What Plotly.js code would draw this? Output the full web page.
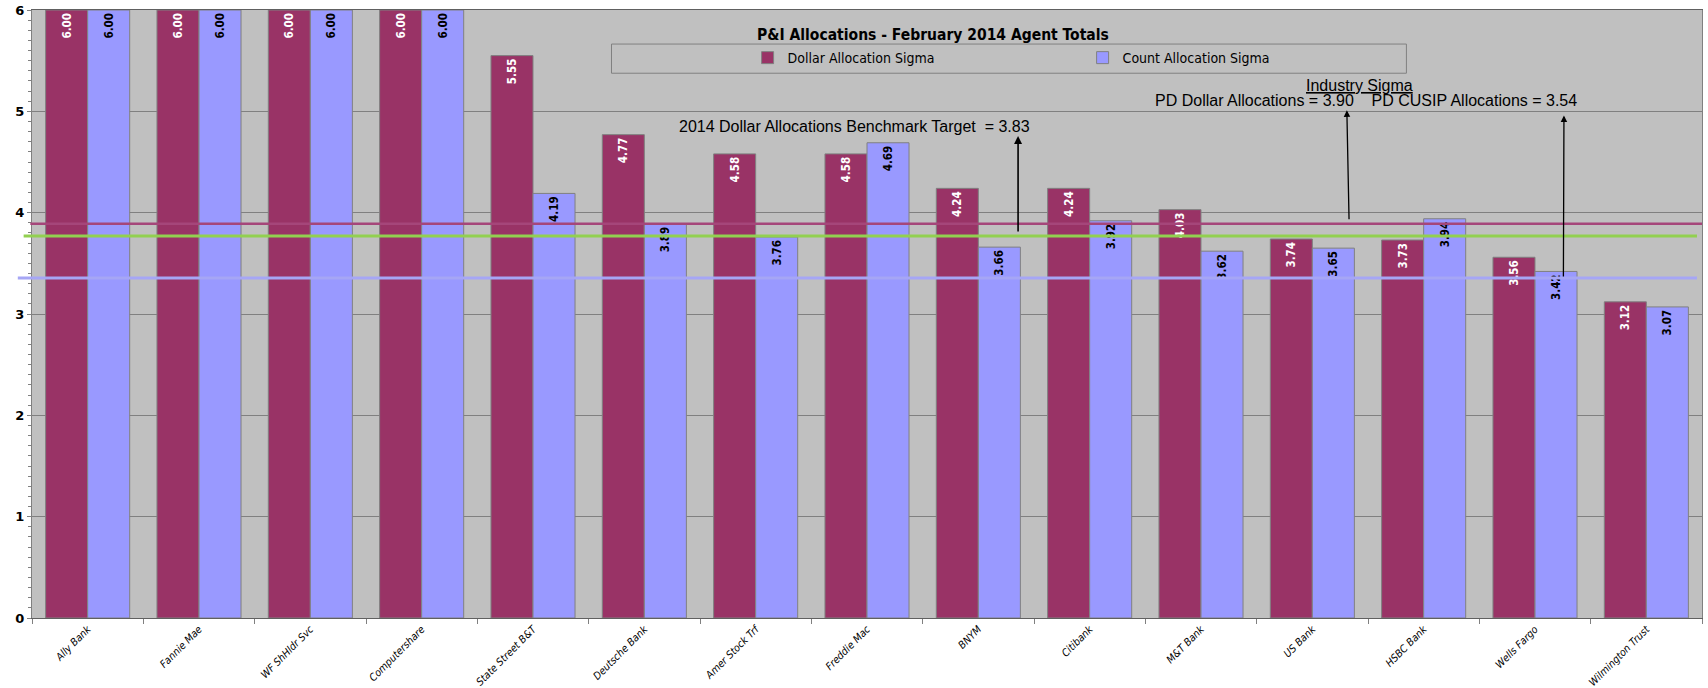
<!DOCTYPE html>
<html>
<head>
<meta charset="utf-8">
<script src="https://cdn.plot.ly/plotly-3.0.1.min.js"></script>
<style>html,body{margin:0;padding:0;background:#fff;}#chart{width:1708px;height:688px;}</style>
</head>
<body>
<div id="chart"></div>
<script>
// ---- data ----
const categories = ['Ally Bank','Fannie Mae','WF ShHldr Svc','Computershare','State Street B&T','Deutsche Bank','Amer Stock Trf','Freddie Mac','BNYM','Citibank','M&T Bank','US Bank','HSBC Bank','Wells Fargo','Wilmington Trust'];
const dollarSigma = [6.00,6.00,6.00,6.00,5.55,4.77,4.58,4.58,4.24,4.24,4.03,3.74,3.73,3.56,3.12];
const countSigma  = [6.00,6.00,6.00,6.00,4.19,3.89,3.76,4.69,3.66,3.92,3.62,3.65,3.94,3.42,3.07];
const seriesNames = ['Dollar Allocation Sigma','Count Allocation Sigma'];
// reference lines as drawn in the chart
const dollarLineLevel = 3.89;
const benchmarkLineLevel = 3.77;
const cusipLineLevel = 3.355;
const yTicks = [0,1,2,3,4,5,6];

const narrow = 'Liberation Sans Narrow, DejaVu Sans Condensed, Arial Narrow, sans-serif';
const arial = 'Liberation Sans, Arial, sans-serif';

const traces = [
  {type:'bar', name:seriesNames[0], x:categories, y:dollarSigma,
   marker:{color:'#993366', line:{color:'#808080', width:1}},
   texttemplate:'%{y:.2f}', textposition:'inside', insidetextanchor:'end', textangle:-90,
   constraintext:'none',
   textfont:{family:'DejaVu Sans Condensed, DejaVu Sans', size:11.5, color:'#ffffff', weight:'bold'},
   hoverinfo:'skip'},
  {type:'bar', name:seriesNames[1], x:categories, y:countSigma,
   marker:{color:'#9999FF', line:{color:'#808080', width:1}},
   texttemplate:'%{y:.2f}', textposition:'inside', insidetextanchor:'end', textangle:-90,
   constraintext:'none',
   textfont:{family:'DejaVu Sans Condensed, DejaVu Sans', size:11.5, color:'#000000', weight:'bold'},
   hoverinfo:'skip'}
];

const layout = {
  width:1708, height:688,
  margin:{l:32, r:6, t:10, b:70},
  paper_bgcolor:'#ffffff', plot_bgcolor:'#C0C0C0',
  barmode:'group', bargap:0.245, bargroupgap:0,
  showlegend:true,
  legend:{orientation:'h', x:0.4285, y:0.921, xanchor:'left', yanchor:'middle',
          bgcolor:'rgba(0,0,0,0)', borderwidth:0, entrywidth:290,
          font:{family:narrow, size:14, color:'#000'}},
  title:{text:'<b>P&amp;I Allocations - February 2014 Agent Totals</b>',
         x:0.5395, xref:'paper', xanchor:'center', y:0.95, yref:'container', yanchor:'middle',
         font:{family:narrow, size:15.5, color:'#000'}},
  xaxis:{type:'category', tickson:'boundaries', ticks:'outside', ticklen:5, tickcolor:'#808080',
         tickangle:-45, tickfont:{family:narrow, size:10.5, style:'italic', color:'#000'},
         showline:true, linecolor:'#606060', linewidth:1, mirror:true, showgrid:false,
         automargin:false, fixedrange:true},
  yaxis:{range:[0,6], tickvals:yTicks, ticks:'outside', ticklen:4, tickcolor:'#808080',
         tickfont:{family:'DejaVu Sans', size:13, weight:'bold', color:'#000'},
         showgrid:true, gridcolor:'#808080', gridwidth:1, zeroline:false,
         showline:true, linecolor:'#808080', linewidth:1, mirror:true,
         minor:{dtick:0.1, ticks:'outside', ticklen:3, tickcolor:'#808080', showgrid:false},
         automargin:false, fixedrange:true},
  shapes:[
    {type:'rect', xref:'paper', yref:'paper', x0:0.347, x1:0.823, y0:0.896, y1:0.944,
     line:{color:'#808080', width:1}, fillcolor:'rgba(0,0,0,0)', layer:'above'},
    {type:'line', xref:'paper', yref:'y', x0:-0.001, x1:1.0, y0:dollarLineLevel, y1:dollarLineLevel,
     line:{color:'#A5467A', width:2.5}, layer:'above'},
    {type:'line', xref:'paper', yref:'y', x0:-0.005, x1:0.997, y0:benchmarkLineLevel, y1:benchmarkLineLevel,
     line:{color:'#92D050', width:3}, layer:'above'},
    {type:'line', xref:'paper', yref:'y', x0:-0.0085, x1:0.997, y0:cusipLineLevel, y1:cusipLineLevel,
     line:{color:'#A6A6F5', width:3}, layer:'above'}
  ],
  annotations:[
    {xref:'x', yref:'y', x:6.89, y:4.855, text:'2014 Dollar Allocations Benchmark Target&nbsp;&nbsp;= 3.83',
     showarrow:false, xanchor:'center', yanchor:'middle', font:{family:arial, size:16, color:'#000'}},
    {xref:'x', yref:'y', x:11.42, y:5.255, text:'<u>Industry Sigma</u>',
     showarrow:false, xanchor:'center', yanchor:'middle', font:{family:arial, size:16, color:'#000'}},
    {xref:'x', yref:'y', x:11.48, y:5.11, text:'PD Dollar Allocations = 3.90&nbsp;&nbsp;&nbsp;&nbsp;PD CUSIP Allocations = 3.54',
     showarrow:false, xanchor:'center', yanchor:'middle', font:{family:arial, size:16, color:'#000'}},
    {xref:'x', yref:'y', axref:'x', ayref:'y', x:8.357, y:4.757, ax:8.357, ay:3.80, text:'',
     showarrow:true, arrowhead:2, arrowsize:1, arrowwidth:1.6, arrowcolor:'#000', standoff:0},
    {xref:'x', yref:'y', axref:'x', ayref:'y', x:11.31, y:5.01, ax:11.33, ay:3.92, text:'',
     showarrow:true, arrowhead:2, arrowsize:1, arrowwidth:1.3, arrowcolor:'#000', standoff:0},
    {xref:'x', yref:'y', axref:'x', ayref:'y', x:13.26, y:4.96, ax:13.255, ay:cusipLineLevel, text:'',
     showarrow:true, arrowhead:2, arrowsize:1, arrowwidth:1.3, arrowcolor:'#000', standoff:0}
  ]
};

Plotly.newPlot('chart', traces, layout, {staticPlot:true, displayModeBar:false});
</script>
</body>
</html>
